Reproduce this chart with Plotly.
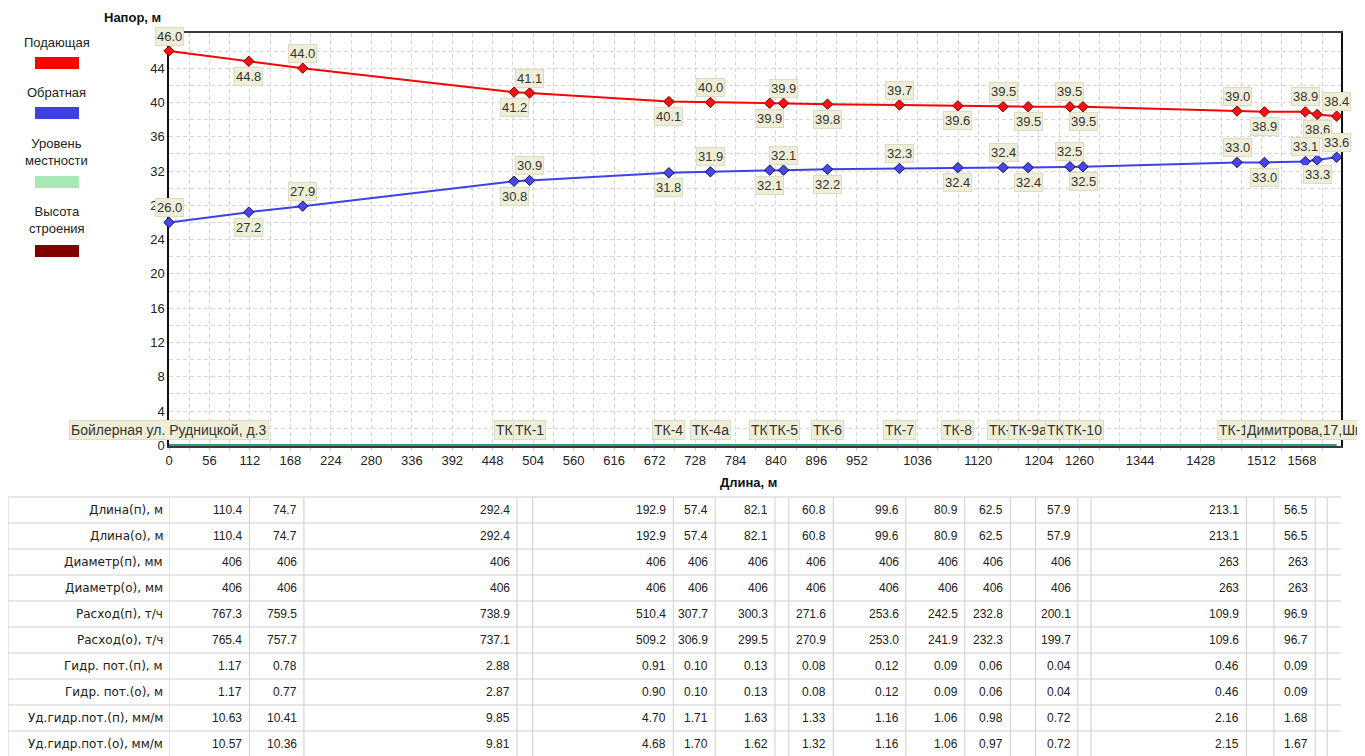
import plotly.graph_objects as go

# ---------------- data ----------------
dist = [0, 110.4, 185.1, 477.5, 499.0, 691.9, 749.3, 831.4, 850.5, 911.3, 1010.9,
        1091.8, 1154.3, 1189.0, 1246.9, 1265.0, 1478.1, 1516.0, 1572.5, 1589.0, 1616.0]
supply = [46.0, 44.8, 44.0, 41.2, 41.1, 40.1, 40.0, 39.9, 39.9, 39.8, 39.7,
          39.6, 39.5, 39.5, 39.5, 39.5, 39.0, 38.9, 38.9, 38.6, 38.4]
ret = [26.0, 27.2, 27.9, 30.8, 30.9, 31.8, 31.9, 32.1, 32.1, 32.2, 32.3,
       32.4, 32.4, 32.4, 32.5, 32.5, 33.0, 33.0, 33.1, 33.3, 33.6]
ground = [0.0] * len(dist)
names = ["Бойлерная ул. Рудницкой, д.3", "", "", "ТК-1а", "ТК-1", "ТК-4", "ТК-4а",
         "ТК-5а", "ТК-5", "ТК-6", "ТК-7", "ТК-8", "ТК-9", "ТК-9а", "ТК-10а", "ТК-10",
         "ТК-11", "Димитрова,17,Школа", "", "", ""]

x_ticks = [0, 56, 112, 168, 224, 280, 336, 392, 448, 504, 560, 616, 672, 728, 784,
           840, 896, 952, 1036, 1120, 1204, 1260, 1344, 1428, 1512, 1568]
y_ticks = [0, 4, 8, 12, 16, 20, 24, 28, 32, 36, 40, 44]

row_labels = ["Длина(п), м", "Длина(о), м", "Диаметр(п), мм", "Диаметр(о), мм",
              "Расход(п), т/ч", "Расход(о), т/ч", "Гидр. пот.(п), м", "Гидр. пот.(о), м",
              "Уд.гидр.пот.(п), мм/м", "Уд.гидр.пот.(о), мм/м"]
len_s = ["110.4", "74.7", "292.4", "", "192.9", "57.4", "82.1", "", "60.8", "99.6", "80.9", "62.5", "", "57.9", "", "213.1", "", "56.5", "", ""]
len_r = ["110.4", "74.7", "292.4", "", "192.9", "57.4", "82.1", "", "60.8", "99.6", "80.9", "62.5", "", "57.9", "", "213.1", "", "56.5", "", ""]
diam_s = ["406", "406", "406", "", "406", "406", "406", "", "406", "406", "406", "406", "", "406", "", "263", "", "263", "", ""]
diam_r = ["406", "406", "406", "", "406", "406", "406", "", "406", "406", "406", "406", "", "406", "", "263", "", "263", "", ""]
flow_s = ["767.3", "759.5", "738.9", "", "510.4", "307.7", "300.3", "", "271.6", "253.6", "242.5", "232.8", "", "200.1", "", "109.9", "", "96.9", "", ""]
flow_r = ["765.4", "757.7", "737.1", "", "509.2", "306.9", "299.5", "", "270.9", "253.0", "241.9", "232.3", "", "199.7", "", "109.6", "", "96.7", "", ""]
loss_s = ["1.17", "0.78", "2.88", "", "0.91", "0.10", "0.13", "", "0.08", "0.12", "0.09", "0.06", "", "0.04", "", "0.46", "", "0.09", "", ""]
loss_r = ["1.17", "0.77", "2.87", "", "0.90", "0.10", "0.13", "", "0.08", "0.12", "0.09", "0.06", "", "0.04", "", "0.46", "", "0.09", "", ""]
sloss_s = ["10.63", "10.41", "9.85", "", "4.70", "1.71", "1.63", "", "1.33", "1.16", "1.06", "0.98", "", "0.72", "", "2.16", "", "1.68", "", ""]
sloss_r = ["10.57", "10.36", "9.81", "", "4.68", "1.70", "1.62", "", "1.32", "1.16", "1.06", "0.97", "", "0.72", "", "2.15", "", "1.67", "", ""]
table_rows = [len_s, len_r, diam_s, diam_r, flow_s, flow_r, loss_s, loss_r, sloss_s, sloss_r]

legend_items = [("Подающая", "#ff0000"), ("Обратная", "#4040e0"),
                ("Уровень<br>местности", "#a8e8b4"), ("Высота<br>строения", "#800000")]

# ---------------- layout geometry (page pixels) ----------------
PAGE_W, PAGE_H = 1365, 756
OFF = 8                      # default body margin of the html page
W, H = PAGE_W - OFF, PAGE_H - OFF
L, R, T, B = 169, 1341, 33, 446   # plot area on the page
X_MAX = 1622
Y_MIN, Y_MAX = -0.08, 48.1
TABLE_X_MAX = 1608  # the table below is drawn slightly wider than the plot
FONT = "Liberation Sans, Arial, sans-serif"
TFONT = "DejaVu Sans, Verdana, sans-serif"
LBL_BG = "#efefd9"
LBL_BORDER = "#dcdcc4"


def pxx(px):
    return (px - L) / (R - L)


def pxy(py):
    return (B - py) / (B - T)


fig = go.Figure()

fig.add_trace(go.Scatter(x=dist, y=ground, mode="lines", line=dict(color="#2a9d7c", width=2.5),
                         showlegend=False, hoverinfo="skip"))
fig.add_trace(go.Scatter(x=dist, y=supply, mode="lines+markers",
                         line=dict(color="#ff0000", width=2),
                         marker=dict(symbol="diamond", size=8, color="#ff1010",
                                     line=dict(color="#700000", width=1)),
                         showlegend=False, cliponaxis=False))
fig.add_trace(go.Scatter(x=dist, y=ret, mode="lines+markers",
                         line=dict(color="#4040e6", width=2),
                         marker=dict(symbol="diamond", size=8, color="#4848e8",
                                     line=dict(color="#101060", width=1)),
                         showlegend=False, cliponaxis=False))
# carrier for the table's own horizontal scale
fig.add_trace(go.Scatter(x=dist, y=[None] * len(dist), xaxis="x2", mode="lines",
                         showlegend=False, hoverinfo="skip"))

ann = []
shapes = []


def lbl(**kw):
    d = dict(showarrow=False, xanchor="center", yanchor="middle")
    d.update(kw)
    ann.append(d)


# value labels
for series in (supply, ret):
    for i, (x, v) in enumerate(zip(dist, series)):
        lbl(x=x, y=v, text=f"{v:.1f}", yshift=15 if i % 2 == 0 else -15,
            bgcolor=LBL_BG, bordercolor=LBL_BORDER, borderwidth=1, borderpad=1,
            font=dict(size=13, family=FONT, color="#333333"))

# node names
for i, (x, nm) in enumerate(zip(dist, names)):
    if not nm:
        continue
    kw = dict(x=x, y=0, text=nm, yshift=15,
              bgcolor=LBL_BG, bordercolor=LBL_BORDER, borderwidth=1, borderpad=1,
              font=dict(size=14, family=FONT, color="#333333"))
    if i == 17:
        kw.update(xanchor="left", xshift=-19)
    lbl(**kw)

# titles
lbl(xref="paper", yref="paper", x=pxx(132), y=pxy(17), text="<b>Напор, м</b>",
    font=dict(size=13, family=FONT, color="#111"))
lbl(xref="paper", yref="paper", x=pxx(748), y=pxy(482), text="<b>Длина, м</b>",
    font=dict(size=13, family=FONT, color="#111"))

# legend (left column)
leg_text_y = [42, 92, 152, 220]
leg_rect_y = [57, 107, 176, 245]
for (txt, col), ty, ry in zip(legend_items, leg_text_y, leg_rect_y):
    lbl(xref="paper", yref="paper", x=pxx(57), y=pxy(ty), text=txt,
        font=dict(size=13, family=FONT, color="#222"))
    shapes.append(dict(type="rect", xref="paper", yref="paper", x0=pxx(35), x1=pxx(79),
                       y0=pxy(ry), y1=pxy(ry + 12), fillcolor=col, line=dict(width=0)))

# table
TT, RH = 497, 26
nrows = len(row_labels)
tb = TT + RH * nrows
GRID = "#cfcfcf"
for r in range(nrows + 1):
    yy = pxy(TT + RH * r)
    shapes.append(dict(type="line", xref="paper", yref="paper", x0=pxx(8), x1=pxx(L),
                       y0=yy, y1=yy, line=dict(color=GRID, width=1)))
    shapes.append(dict(type="line", xref="x2", yref="paper", x0=dist[0], x1=dist[-1],
                       y0=yy, y1=yy, line=dict(color=GRID, width=1)))
shapes.append(dict(type="line", xref="paper", yref="paper", x0=pxx(8), x1=pxx(8),
                   y0=pxy(TT), y1=pxy(tb), line=dict(color=GRID, width=1)))
for x in dist:
    shapes.append(dict(type="line", xref="x2", yref="paper", x0=x, x1=x,
                       y0=pxy(TT), y1=pxy(tb), line=dict(color=GRID, width=1)))
for r, (lab, vals) in enumerate(zip(row_labels, table_rows)):
    yc = pxy(TT + RH * r + RH / 2)
    lbl(xref="paper", yref="paper", x=pxx(L - 4), y=yc, xanchor="right", text=lab,
        font=dict(size=12, family=TFONT, color="#202020"))
    for j, v in enumerate(vals):
        if not v:
            continue
        lbl(xref="x2", yref="paper", x=dist[j + 1], y=yc, xanchor="right", xshift=-5,
            text=v, font=dict(size=12, family=FONT, color="#202020"))

fig.update_layout(
    width=W, height=H, autosize=False,
    margin=dict(l=L - OFF, r=W - (R - OFF), t=T - OFF, b=H - (B - OFF), pad=0),
    paper_bgcolor="white", plot_bgcolor="white",
    showlegend=False,
    annotations=ann, shapes=shapes,
    font=dict(family=FONT, size=13, color="#222"),
    xaxis=dict(range=[0, X_MAX], tickvals=x_ticks, ticktext=[str(t) for t in x_ticks],
               showgrid=True, gridcolor="#d6d6d6", griddash="4px,3px", gridwidth=1,
               minor=dict(dtick=28, tick0=0, showgrid=True, gridcolor="#d6d6d6",
                          griddash="4px,3px", ticks="outside", ticklen=3, tickcolor="#cccccc"),
               showline=True, linecolor="#3a3a3a", linewidth=1.5, mirror=True,
               zeroline=False, ticks="", ticklabelstandoff=2,
               tickfont=dict(size=13, family=FONT, color="#222"),
               layer="below traces"),
    xaxis2=dict(range=[0, TABLE_X_MAX], overlaying="x", visible=False),
    yaxis=dict(range=[Y_MIN, Y_MAX], tickvals=y_ticks,
               showgrid=True, gridcolor="#d6d6d6", griddash="4px,3px", gridwidth=1,
               minor=dict(dtick=2, tick0=0, showgrid=True, gridcolor="#d6d6d6",
                          griddash="4px,3px"),
               showline=True, linecolor="#111111", linewidth=1.5, mirror=True,
               zeroline=False, ticks="", tickfont=dict(size=13, family=FONT, color="#222"),
               layer="below traces"),
)

fig.write_html("out.html", config={"displayModeBar": False})
